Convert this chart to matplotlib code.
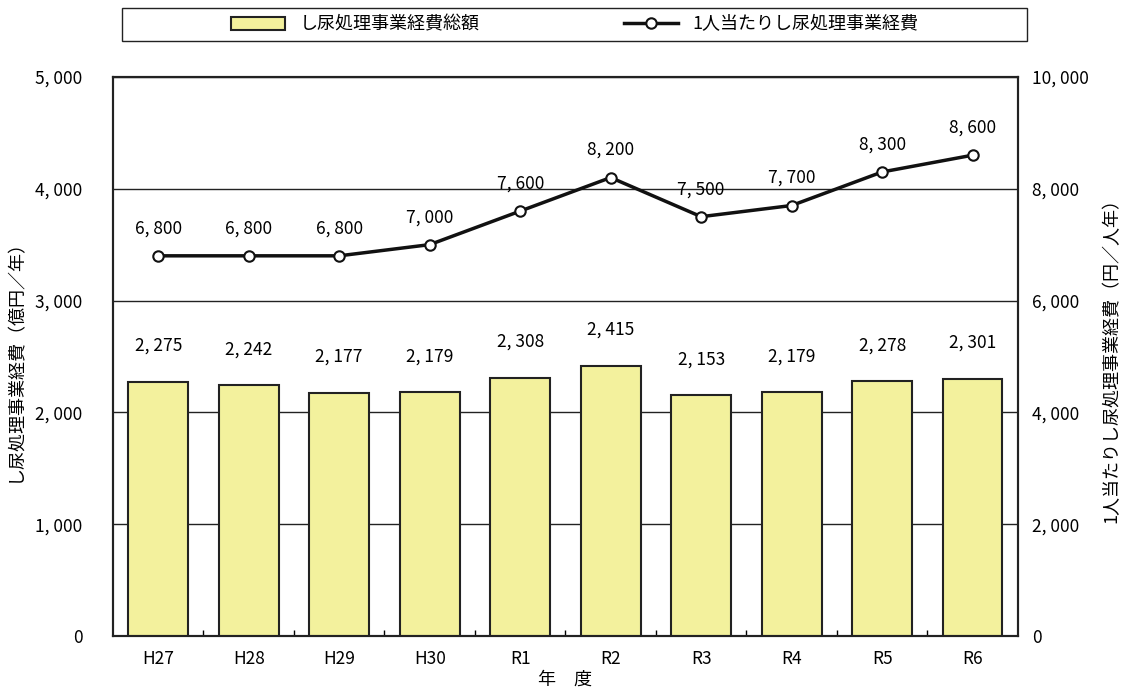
import matplotlib.pyplot as plt
from matplotlib.ticker import FuncFormatter, FixedLocator

plt.rcParams['font.family'] = ['Noto Sans CJK JP', 'DejaVu Sans']

years = ['H27', 'H28', 'H29', 'H30', 'R1', 'R2', 'R3', 'R4', 'R5', 'R6']
total_cost = [2275, 2242, 2177, 2179, 2308, 2415, 2153, 2179, 2278, 2301]
per_person = [6800, 6800, 6800, 7000, 7600, 8200, 7500, 7700, 8300, 8600]


def fmt(v, pos=None):
    return f"{int(v):,}".replace(",", ", ")


fig = plt.figure(figsize=(11.21, 6.93), dpi=100)
ax = fig.add_axes([0.1008, 0.0823, 0.8072, 0.8067])
ax2 = ax.twinx()

x = list(range(len(years)))
bars = ax.bar(x, total_cost, width=0.66, color='#f3f19d', edgecolor='#222222',
              linewidth=1.5, zorder=3, label='し尿処理事業経費総額')
for xi, v in zip(x, total_cost):
    ax.text(xi, v + 240, fmt(v), ha='center', va='bottom', fontsize=12.5)

ax.set_ylim(0, 5000)
ax.set_xlim(-0.5, len(years) - 0.5)
ax.set_yticks(range(0, 5001, 1000))
ax.yaxis.set_major_formatter(FuncFormatter(fmt))
ax.grid(axis='y', color='#222222', linewidth=1, zorder=0)
ax.set_axisbelow(True)
ax.set_xticks(x)
ax.set_xticklabels(years, fontsize=12.5)
ax.tick_params(axis='x', length=0, pad=10)
ax.xaxis.set_minor_locator(FixedLocator([i + 0.5 for i in range(len(years) - 1)]))
ax.tick_params(axis='x', which='minor', direction='in', length=4, width=1)
ax.tick_params(axis='y', length=0, pad=22, labelsize=12.5)
ax.set_ylabel('し尿処理事業経費（億円／年）', fontsize=13, labelpad=8)
ax.set_xlabel('年　度', fontsize=13, labelpad=2)

line, = ax2.plot(x, per_person, color='#111111', linewidth=2.5, marker='o',
                 markersize=7.5, markerfacecolor='white', markeredgecolor='#111111',
                 markeredgewidth=1.5, zorder=5, label='1人当たりし尿処理事業経費')
for xi, v in zip(x, per_person):
    ax2.text(xi, v + 330, fmt(v), ha='center', va='bottom', fontsize=12.5)
ax2.set_ylim(0, 10000)
ax2.set_yticks(range(0, 10001, 2000))
ax2.yaxis.set_major_formatter(FuncFormatter(fmt))
ax2.tick_params(axis='y', length=0, pad=10, labelsize=12.5)
ax2.set_ylabel('1人当たりし尿処理事業経費（円／人年）', fontsize=13, labelpad=10)

for a in (ax, ax2):
    for s in a.spines.values():
        s.set_linewidth(1.5)
        s.set_color('#222222')

leg = fig.legend(handles=[bars, line], loc='center',
                 bbox_to_anchor=(122 / 1121, 1 - 41 / 693, 905 / 1121, 33 / 693),
                 ncol=2, fontsize=13, frameon=False,
                 handlelength=3, borderaxespad=0, columnspacing=8)
fig.patches.append(plt.Rectangle((122 / 1121, 1 - 41 / 693), 905 / 1121, 33 / 693,
                                 transform=fig.transFigure, fill=False,
                                 edgecolor='#222222', linewidth=1))

fig.savefig('out.png', dpi=100)
